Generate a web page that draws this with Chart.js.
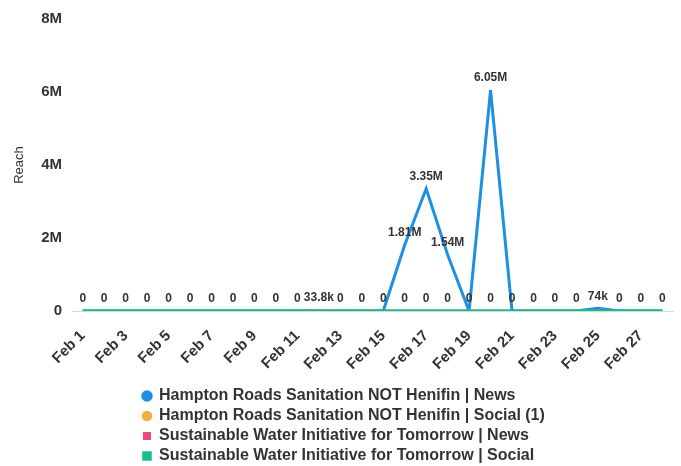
<!DOCTYPE html>
<html>
<head>
<meta charset="utf-8">
<script src="https://cdn.jsdelivr.net/npm/chart.js@4.4.1/dist/chart.umd.min.js"></script>
<style>
  html, body { margin: 0; padding: 0; background: #fff; }
</style>
</head>
<body>
<canvas id="chart" width="681" height="466"></canvas>
<script>
const days = [
  "Feb 1", "Feb 2", "Feb 3", "Feb 4", "Feb 5", "Feb 6", "Feb 7",
  "Feb 8", "Feb 9", "Feb 10", "Feb 11", "Feb 12", "Feb 13", "Feb 14",
  "Feb 15", "Feb 16", "Feb 17", "Feb 18", "Feb 19", "Feb 20", "Feb 21",
  "Feb 22", "Feb 23", "Feb 24", "Feb 25", "Feb 26", "Feb 27", "Feb 28"
];

const hrsNews = [
  0, 0, 0, 0, 0, 0, 0, 0, 0, 0, 0, 0, 0, 0,
  0, 1810000, 3350000, 1540000, 0, 6050000, 0, 0, 0, 0, 74000, 0, 0, 0
];
const hrsSocial = [
  0, 0, 0, 0, 0, 0, 0, 0, 0, 0, 0, 33800, 0, 0,
  0, 0, 0, 0, 0, 0, 0, 0, 0, 0, 0, 0, 0, 0
];
const swiftNews = [
  0, 0, 0, 0, 0, 0, 0, 0, 0, 0, 0, 0, 0, 0,
  0, 0, 0, 0, 0, 0, 0, 0, 0, 0, 0, 0, 0, 0
];
const swiftSocial = [
  0, 0, 0, 0, 0, 0, 0, 0, 0, 0, 0, 0, 0, 0,
  0, 0, 0, 0, 0, 0, 0, 0, 0, 0, 0, 0, 0, 0
];

const seriesNames = [
  "Hampton Roads Sanitation NOT Henifin | News",
  "Hampton Roads Sanitation NOT Henifin | Social (1)",
  "Sustainable Water Initiative for Tomorrow | News",
  "Sustainable Water Initiative for Tomorrow | Social"
];
const yTicks = [0, 2000000, 4000000, 6000000, 8000000];

const FONT = "'Liberation Sans', Arial, sans-serif";
const TEXT = "#333";

function shortNum ( v ) {
  if ( v >= 1e6 ) return Number( ( v / 1e6 ).toPrecision( 3 ) ) + "M";
  if ( v >= 1e3 ) return Number( ( v / 1e3 ).toPrecision( 3 ) ) + "k";
  return String( v );
}

// value labels, one "0" per day unless a small non-zero value sits on the baseline
const valueLabels = {
  id: "valueLabels",
  afterDatasetsDraw ( chart ) {
    const ctx = chart.ctx;
    const yScale = chart.scales.y;
    const metas = chart.data.datasets.map( ( d, i ) => chart.getDatasetMeta( i ) );
    ctx.save();
    ctx.font = "bold 12px " + FONT;
    ctx.fillStyle = TEXT;
    ctx.textAlign = "center";
    ctx.textBaseline = "bottom";
    for ( let i = 0; i < days.length; i++ ) {
      let baseTaken = false;
      let anyZero = false;
      chart.data.datasets.forEach( ( ds, k ) => {
        const v = ds.data[ i ];
        const pt = metas[ k ].data[ i ];
        if ( v > 0 ) {
          ctx.fillText( shortNum( v ), pt.x, pt.y - 6 );
          if ( v < 300000 ) baseTaken = true;
        } else {
          anyZero = true;
        }
      } );
      if ( anyZero && !baseTaken ) {
        ctx.fillText( "0", metas[ 0 ].data[ i ].x, yScale.getPixelForValue( 0 ) - 6 );
      }
    }
    ctx.restore();
  }
};

const legendShift = {
  id: "legendShift",
  afterLayout ( chart ) {
    const lg = chart.legend;
    lg.left = 139;
    lg.top += 8;
    lg.bottom += 8;
  }
};

const colors = [ "#1E8FE1", "#F5AE3D", "#E94B80", "#1CBB8C" ];
const styles = [ "circle", "circle", "rect", "rect" ];
const widths = [ 3, 2, 2, 3.5 ];
const values = [ hrsNews, hrsSocial, swiftNews, swiftSocial ];

const chart = new Chart( document.getElementById( "chart" ), {
  type: "line",
  data: {
    labels: days,
    datasets: values.map( ( v, i ) => ( {
      label: seriesNames[ i ],
      data: v,
      borderColor: colors[ i ],
      backgroundColor: colors[ i ],
      borderWidth: widths[ i ],
      pointRadius: 0,
      pointStyle: styles[ i ],
      tension: 0,
      order: 3 - i
    } ) )
  },
  options: {
    responsive: false,
    animation: false,
    layout: { padding: { top: 18, right: 8, left: 0, bottom: 0 } },
    plugins: {
      tooltip: { enabled: false },
      legend: {
        position: "bottom",
        align: "start",
        labels: {
          usePointStyle: true,
          boxWidth: 8,
          boxHeight: 6,
          padding: 4,
          color: TEXT,
          font: { family: FONT, size: 16, weight: "bold" },
          sort: ( a, b ) => a.datasetIndex - b.datasetIndex
        }
      }
    },
    scales: {
      x: {
        offset: true,
        grid: { display: false, drawTicks: false },
        border: { display: true, color: "#d8d8d8" },
        afterFit ( axis ) {
          axis.height = 155 - axis.chart.legend.height;
          axis.paddingLeft = 0;
          axis.paddingRight = 0;
        },
        ticks: {
          autoSkip: false,
          maxRotation: 45,
          minRotation: 45,
          padding: 16,
          color: "#333",
          font: { family: FONT, size: 15, weight: "bold" },
          callback ( val, i ) { return i % 2 === 0 ? this.getLabelForValue( val ) : ""; }
        }
      },
      y: {
        min: 0,
        max: 8000000,
        afterBuildTicks ( axis ) { axis.ticks = yTicks.map( v => ( { value: v } ) ); },
        afterFit ( axis ) { axis.width = 72; },
        grid: { display: false, drawTicks: false },
        border: { display: false },
        title: {
          display: true,
          text: "Reach",
          color: TEXT,
          font: { family: FONT, size: 13 },
          padding: { top: 12, bottom: 4 }
        },
        ticks: {
          padding: 10,
          color: TEXT,
          font: { family: FONT, size: 15, weight: "bold" },
          callback: ( v ) => shortNum( v )
        }
      }
    }
  },
  plugins: [ valueLabels, legendShift ]
} );
</script>
</body>
</html>
